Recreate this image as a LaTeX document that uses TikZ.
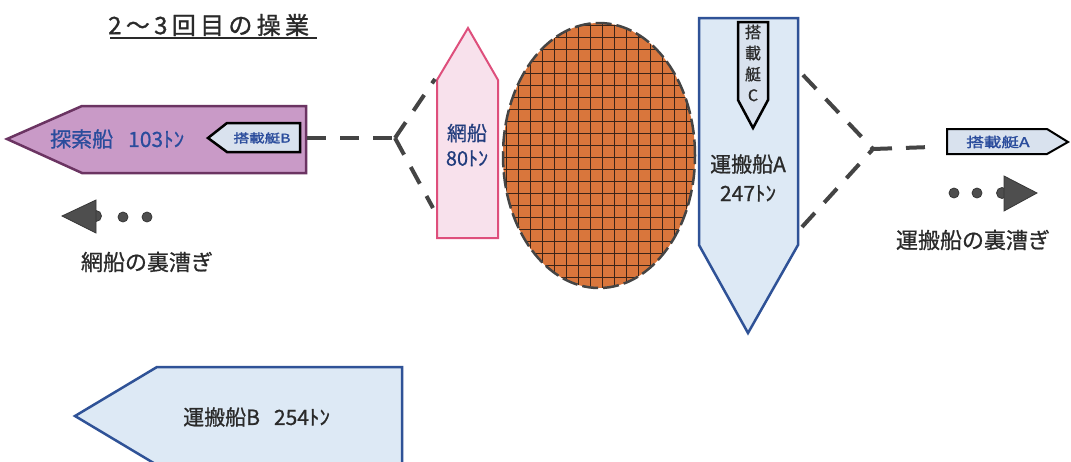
\documentclass[tikz,border=0pt]{standalone}
\usepackage{fontspec}
\setmainfont{Liberation Sans}
\newfontfamily\jp[FakeBold=0.8]{Noto Sans CJK JP}
\newfontfamily\jpw[FakeStretch=1.3,FakeBold=1.8]{Noto Sans CJK JP}
\newfontfamily\jpt[LetterSpace=18,FakeBold=1.2]{Noto Sans CJK JP}
\definecolor{tfill}{HTML}{C99AC7}
\definecolor{tline}{HTML}{6B3462}
\definecolor{txtblue}{HTML}{2A4C9C}
\definecolor{afill}{HTML}{F8E1EC}
\definecolor{aline}{HTML}{DE4F7C}
\definecolor{netfill}{HTML}{D9763C}
\definecolor{netline}{HTML}{3B2418}
\definecolor{ufill}{HTML}{DDE9F5}
\definecolor{uline}{HTML}{2F5297}
\definecolor{sfill}{HTML}{D9E2EE}
\definecolor{dashc}{HTML}{444444}
\definecolor{arrc}{HTML}{4E4E4E}
\definecolor{txtdark}{HTML}{2A2A2A}
\tikzset{
  conn/.style={dashc, line width=4pt, dash pattern=on 19pt off 14pt},
  boatT/.style={draw=tline, fill=tfill, line width=2.5pt, line join=miter},
  boatA/.style={draw=aline, fill=afill, line width=2pt},
  boatU/.style={draw=uline, fill=ufill, line width=2.5pt},
  small/.style={draw=black, fill=sfill, line width=2.5pt},
  lbl/.style={inner sep=0pt, font=\jp\fontsize{21}{22}\selectfont},
  gray/.style={fill=arrc, draw=arrc!70!black, line width=0.8pt},
}
\begin{document}
\begin{tikzpicture}[x=1pt,y=-1pt]
\clip (0,0) rectangle (1071,461);
\fill[white] (0,0) rectangle (1071,461);

% title
\node[inner sep=0pt, anchor=west, txtdark, font=\jpt\fontsize{24}{24}\selectfont] (title) at (108,25) {2～3回目の操業};
\draw[txtdark, line width=1.3pt] (110,38) -- (317,38);

% 探索船
\draw[boatT] (7,139) -- (82,106) -- (306,106) -- (306,173) -- (82,173) -- cycle;
\node[lbl, anchor=west, txtblue] (tansaku) at (50,139) {探索船\hspace{15pt}103ﾄﾝ};
\draw[small] (208,138) -- (227,123) -- (300,123) -- (300,152) -- (227,152) -- cycle;
\node[inner sep=0pt, txtblue, font=\jpw\fontsize{12}{12}\selectfont] (boatB) at (262,138) {搭載艇B};
\coordinate (tR) at (307,138);
\coordinate (J1) at (395,138);

% 網船
\draw[boatA] (468,28) -- (498,80) -- (498,238) -- (437,238) -- (437,80) -- cycle;
\node[lbl, txtblue!80!black, align=center, font=\jp\fontsize{20}{25}\selectfont] (ami) at (467,145) {網船\\80ﾄﾝ};
\coordinate (aU) at (435,79);
\coordinate (aD) at (433,208);

% net
\begin{scope}
\clip (599,155.5) ellipse [x radius=96pt, y radius=132.5pt];
\fill[netfill] (500,20) rectangle (700,292);
\foreach \i in {0,...,16} \draw[netline, line width=1.1pt] (506.5+\i*12,20) -- (506.5+\i*12,292);
\foreach \j in {0,...,22} \draw[netline, line width=1.1pt] (500,25.5+\j*12) -- (700,25.5+\j*12);
\end{scope}
\draw[dashc, line width=2.5pt, dash pattern=on 16pt off 5pt] (599,155.5) ellipse [x radius=96pt, y radius=132.5pt];
\coordinate (net) at (599,155.5);

% 運搬船A
\draw[boatU] (699,18) -- (798,18) -- (798,245) -- (748,333) -- (699,245) -- cycle;
\draw[small] (738,22) -- (768,22) -- (768,100) -- (753,128) -- (738,100) -- cycle;
\node[inner sep=0pt, txtdark, align=center, font=\jp\fontsize{16}{21}\selectfont] (boatC) at (753,63) {搭\\載\\艇\\C};
\node[lbl, txtdark, align=center, font=\jp\fontsize{21}{29}\selectfont] (unpanA) at (748,178) {運搬船A\\247ﾄﾝ};
\coordinate (uU) at (803,75);
\coordinate (uD) at (802,227);
\coordinate (J2) at (873,149);
\coordinate (bA) at (931,147);

% 搭載艇A
\draw[small, line width=2pt] (947,129) -- (1047,129) -- (1068,142) -- (1047,154) -- (947,154) -- cycle;
\node[inner sep=0pt, txtblue, font=\jpw\fontsize{13.5}{13.5}\selectfont] (boatA) at (998,142) {搭載艇A};

% connectors
\draw[conn] (tR) -- (J1);
\draw[conn] (J1) -- (aU);
\draw[conn] (J1) -- (aD);
\draw[conn] (uU) -- (J2);
\draw[conn] (uD) -- (J2);
\draw[conn] (J2) -- (bA);

% left backing arrow
\draw[gray] (96,216) circle (5.5pt);
\draw[gray] (62,216) -- (96,200) -- (96,233) -- cycle;
\draw[gray] (123,217) circle (5pt);
\draw[gray] (147,217) circle (5pt);
\node[lbl, txtdark, font=\jp\fontsize{22}{22}\selectfont] (leftlbl) at (147,262) {網船の裏漕ぎ};

% right backing arrow
\draw[gray] (1002,193) circle (5.5pt);
\draw[gray] (1037,193) -- (1004,176) -- (1004,211) -- cycle;
\draw[gray] (954,193) circle (5pt);
\draw[gray] (977,193) circle (5pt);
\node[lbl, txtdark, font=\jp\fontsize{22}{22}\selectfont] (rightlbl) at (973,240) {運搬船の裏漕ぎ};

% 運搬船B
\draw[boatU] (75,416) -- (157,367) -- (402,367) -- (402,465) -- (157,465) -- cycle;
\node[lbl, anchor=west, txtdark] (unpanB) at (183,417) {運搬船B\hspace{14pt}254ﾄﾝ};
\end{tikzpicture}
\end{document}
